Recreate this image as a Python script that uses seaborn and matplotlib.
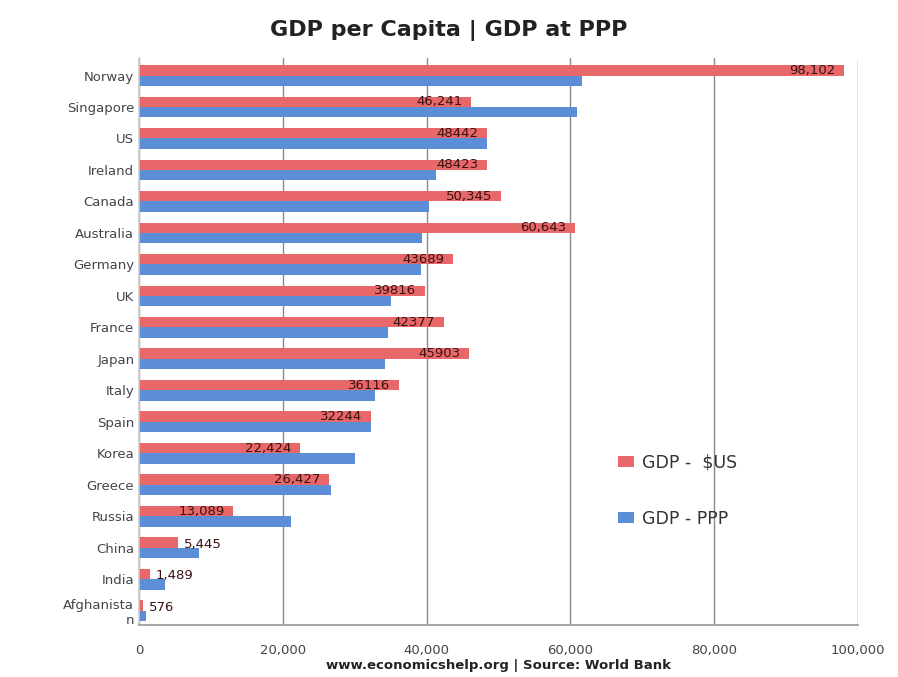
import matplotlib
matplotlib.use("Agg")
import matplotlib.pyplot as plt
import seaborn as sns
import pandas as pd
from matplotlib.ticker import FuncFormatter

countries = ["Norway", "Singapore", "US", "Ireland", "Canada", "Australia", "Germany",
             "UK", "France", "Japan", "Italy", "Spain", "Korea", "Greece", "Russia",
             "China", "India", "Afghanista\nn"]
gdp_usd = [98102, 46241, 48442, 48423, 50345, 60643, 43689, 39816, 42377, 45903,
           36116, 32244, 22424, 26427, 13089, 5445, 1489, 576]
gdp_ppp = [61700, 61000, 48400, 41300, 40400, 39300, 39200, 35100, 34700, 34200,
           32800, 32200, 30100, 26700, 21200, 8300, 3600, 1000]
usd_labels = ["98,102", "46,241", "48442", "48423", "50,345", "60,643", "43689", "39816",
              "42377", "45903", "36116", "32244", "22,424", "26,427", "13,089", "5,445",
              "1,489", "576"]
series_names = ["GDP -  $US", "GDP - PPP"]
x_ticks = [0, 20000, 40000, 60000, 80000, 100000]

df = pd.DataFrame({
    "Country": countries * 2,
    "Value": gdp_usd + gdp_ppp,
    "Series": [series_names[0]] * len(countries) + [series_names[1]] * len(countries),
})

sns.set_theme(style="white")
plt.rcParams["font.family"] = ["DejaVu Sans"]

fig = plt.figure(figsize=(8.98, 6.77), dpi=100)
ax = fig.add_axes([0.155, 0.077, 0.80, 0.837])

red = "#E8686A"
blue = "#5B8ED6"
sns.barplot(data=df, y="Country", x="Value", hue="Series", orient="h",
            palette=[red, blue], width=0.66, ax=ax, saturation=1, legend=True,
            edgecolor="none")

ax.set_xlim(0, 100000)
ax.set_ylim(len(countries) - 0.55, -0.55)
ax.set_xticks(x_ticks)
ax.xaxis.set_major_formatter(FuncFormatter(lambda v, p: f"{int(v):,}"))
ax.grid(axis="x", color="#8a8a8a", linewidth=1.0)
ax.set_axisbelow(True)
for s in ["top", "right"]:
    ax.spines[s].set_visible(False)
ax.spines["left"].set_color("#cccccc")
ax.spines["bottom"].set_color("#9a9a9a")
ax.tick_params(axis="both", length=0, labelsize=9.5, colors="#444444")
ax.tick_params(axis="x", pad=14)
ax.set_xlabel("")
ax.set_ylabel("")

# value labels on red bars
red_container = ax.containers[0]
for bar, val, lab in zip(red_container, gdp_usd, usd_labels):
    y = bar.get_y() + bar.get_height() / 2
    if val > 8000:
        ax.text(val - 1200, y, lab, ha="right", va="center", fontsize=9.5,
                color="#3a1010")
    else:
        ax.text(val + 800, y + 0.05, lab, ha="left", va="center", fontsize=9.5,
                color="#3a1010")

leg = ax.legend(loc="center left", bbox_to_anchor=(0.645, 0.237), frameon=False,
                fontsize=12.5, handlelength=0.9, handleheight=0.6, labelspacing=2.2,
                handletextpad=0.45)
for t in leg.get_texts():
    t.set_color("#333333")

fig.text(0.5, 0.955, "GDP per Capita | GDP at PPP", ha="center", va="center",
         fontsize=16, fontweight="bold", color="#222222")
fig.text(0.555, 0.017, "www.economicshelp.org | Source: World Bank", ha="center",
         va="center", fontsize=9.5, fontweight="bold", color="#222222")

fig.savefig("out.png", dpi=100)
